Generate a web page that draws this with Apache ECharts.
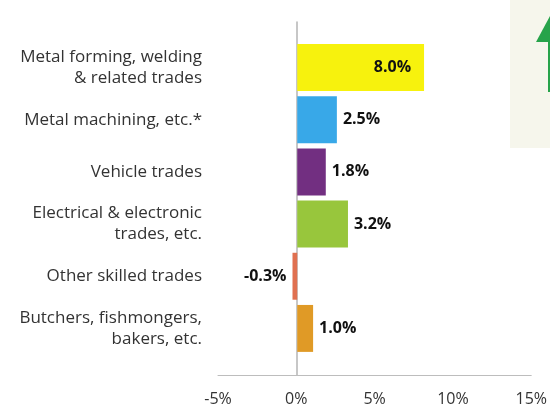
<!DOCTYPE html>
<html>
<head>
<meta charset="utf-8">
<script src="https://cdn.jsdelivr.net/npm/echarts@6/dist/echarts.min.js"></script>
<style>html,body{margin:0;padding:0;background:#fff}#c{width:550px;height:408px}</style>
</head>
<body>
<div id="c"></div>
<script>
const categories = [
  "Metal forming, welding\n& related trades",
  "Metal machining, etc.*",
  "Vehicle trades",
  "Electrical & electronic\ntrades, etc.",
  "Other skilled trades",
  "Butchers, fishmongers,\nbakers, etc."
];
const values = [8.0, 2.5, 1.8, 3.2, -0.3, 1.0];
const colors = ["#f7f20d", "#38a8e8", "#722f81", "#98c63c", "#e07050", "#e09a26"];
const xTicks = [-5, 0, 5, 10, 15];

const FONT = "'Open Sans', sans-serif";
const chart = echarts.init(document.getElementById('c'));

const data = values.map((v, i) => ({
  value: v,
  itemStyle: { color: colors[i] },
  label: {
    position: v > 5 ? 'insideRight' : (v < 0 ? 'left' : 'right'),
    distance: v > 5 ? 13 : 6
  }
}));

chart.setOption({
  animation: false,
  graphic: [
    { type: 'rect', shape: { x: 510, y: 0, width: 40, height: 148 }, style: { fill: '#f6f6ec' }, silent: true },
    { type: 'polygon', shape: { points: [[536, 42], [550, 16], [550, 42]] }, style: { fill: '#27a34a' }, silent: true },
    { type: 'rect', shape: { x: 548, y: 41, width: 2, height: 51 }, style: { fill: '#27a34a' }, silent: true }
  ],
  grid: [
    { left: 218, right: 15, top: 41.5, height: 313 },
    { left: 218, right: 15, top: 22, height: 353 }
  ],
  xAxis: [
    { gridIndex: 0, type: 'value', min: xTicks[0], max: xTicks[xTicks.length - 1], interval: 5, show: false },
    {
      gridIndex: 1, type: 'value', min: xTicks[0], max: xTicks[xTicks.length - 1], interval: 5,
      axisLine: { show: true, onZero: false, lineStyle: { color: '#bdbdbd', width: 1 } },
      axisTick: { show: false },
      splitLine: { show: false },
      axisLabel: { formatter: v => v + '%', color: '#333', fontSize: 16, fontFamily: FONT, margin: 16 }
    }
  ],
  yAxis: [
    {
      gridIndex: 0, type: 'category', data: categories, inverse: true,
      axisLine: { show: false, onZero: false },
      axisTick: { show: false },
      axisLabel: { color: '#333', fontSize: 17, fontFamily: FONT, lineHeight: 21, margin: 16, align: 'right' }
    },
    {
      gridIndex: 1, type: 'value', min: 0, max: 1,
      axisLine: { show: true, onZero: true, lineStyle: { color: '#b5b5b5', width: 1.5 } },
      axisTick: { show: false },
      axisLabel: { show: false },
      splitLine: { show: false }
    }
  ],
  series: [
    {
      type: 'bar', xAxisIndex: 0, yAxisIndex: 0, data: data,
      barCategoryGap: '10%',
      label: {
        show: true, color: '#111', fontWeight: 'bold', fontSize: 16, fontFamily: FONT,
        formatter: p => p.value.toFixed(1) + '%'
      }
    }
  ]
});
</script>
</body>
</html>
